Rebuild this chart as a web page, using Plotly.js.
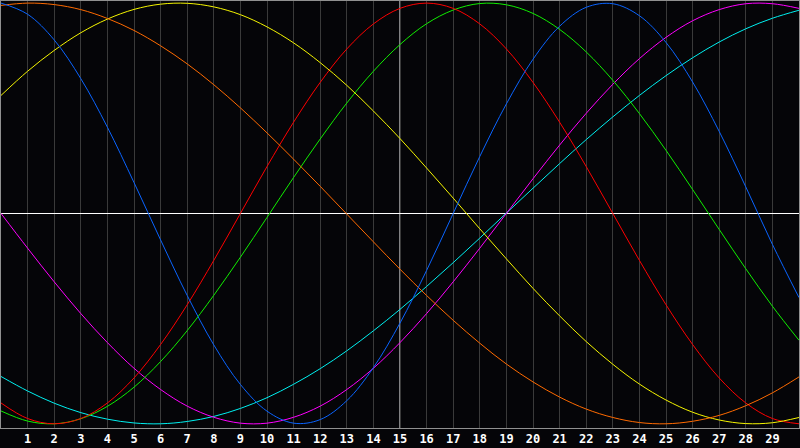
<!DOCTYPE html>
<html>
<head>
<meta charset="utf-8">
<script src="https://cdn.plot.ly/plotly-3.0.1.min.js"></script>
<style>
html,body{margin:0;padding:0;background:#050508;}
#chart{width:800px;height:448px;}
</style>
</head>
<body>
<div id="chart"></div>
<script>
const xValues = [0,1,2,3,4,5,6,7,8,9,10,11,12,13,14,15,16,17,18,19,20,21,22,23,24,25,26,27,28,29,30];
const tickLabels = [1,2,3,4,5,6,7,8,9,10,11,12,13,14,15,16,17,18,19,20,21,22,23,24,25,26,27,28,29];
const refX = 15;

const blueValues = [1.00,0.947,0.825,0.641,0.410,0.147,-0.126,-0.390,-0.625,-0.813,-0.940,-0.997,-0.980,-0.890,-0.733,-0.521,-0.271,0.000,0.271,0.521,0.733,0.890,0.980,0.997,0.940,0.813,0.625,0.390,0.126,-0.147,-0.400];
const orangeValues = [0.989,1.000,0.993,0.969,0.927,0.870,0.797,0.711,0.612,0.502,0.383,0.258,0.129,-0.003,-0.135,-0.265,-0.390,-0.508,-0.617,-0.716,-0.801,-0.873,-0.930,-0.970,-0.994,-1.000,-0.988,-0.960,-0.914,-0.853,-0.777];
const yellowValues = [0.561,0.676,0.775,0.859,0.924,0.970,0.995,0.999,0.982,0.945,0.887,0.811,0.717,0.609,0.487,0.356,0.216,0.073,-0.073,-0.216,-0.356,-0.487,-0.609,-0.717,-0.811,-0.887,-0.945,-0.982,-0.999,-0.995,-0.970];
const redValues = [-0.901,-0.975,-1.000,-0.975,-0.901,-0.782,-0.623,-0.434,-0.223,0.000,0.223,0.434,0.623,0.782,0.901,0.975,1.000,0.975,0.901,0.782,0.623,0.434,0.223,0.000,-0.223,-0.434,-0.623,-0.782,-0.901,-0.975,-1.000];
const greenValues = [-0.939,-0.987,-1.000,-0.976,-0.917,-0.826,-0.704,-0.557,-0.389,-0.208,-0.019,0.171,0.354,0.525,0.676,0.803,0.902,0.967,0.998,0.992,0.951,0.875,0.768,0.633,0.475,0.300,0.114,-0.076,-0.263,-0.441,-0.603];
const magentaValues = [0.000,-0.165,-0.325,-0.476,-0.614,-0.736,-0.837,-0.916,-0.969,-0.997,-0.997,-0.969,-0.916,-0.837,-0.736,-0.614,-0.476,-0.325,-0.165,0.000,0.165,0.325,0.476,0.614,0.736,0.837,0.916,0.969,0.997,0.997,0.975];
const cyanValues = [-0.775,-0.844,-0.902,-0.947,-0.978,-0.996,-1.000,-0.989,-0.965,-0.927,-0.876,-0.812,-0.738,-0.653,-0.558,-0.456,-0.347,-0.234,-0.117,0.002,0.120,0.237,0.351,0.459,0.561,0.655,0.740,0.815,0.878,0.928,0.966];

const seriesList = [
  {y: cyanValues, color: '#00f0f0'},
  {y: magentaValues, color: '#ff00ff'},
  {y: greenValues, color: '#10ee00'},
  {y: redValues, color: '#ff0000'},
  {y: yellowValues, color: '#f5f500'},
  {y: orangeValues, color: '#ff6a00'},
  {y: blueValues, color: '#0a64ff'}
];

const traces = seriesList.map(s => ({
  x: xValues, y: s.y, type: 'scatter', mode: 'lines',
  line: {color: s.color, width: 1, shape: 'spline', smoothing: 1},
  hoverinfo: 'skip', showlegend: false
}));

const layout = {
  width: 800, height: 448,
  margin: {l: 1, r: 1, t: 1, b: 20, pad: 0},
  paper_bgcolor: '#050508',
  plot_bgcolor: '#050508',
  showlegend: false,
  xaxis: {
    range: [0, 30], tickmode: 'array', tickvals: tickLabels, ticktext: tickLabels.map(String),
    showgrid: true, gridcolor: '#3a3a3a', gridwidth: 1,
    zeroline: false, showline: true, mirror: true, linecolor: '#909090', linewidth: 1,
    ticks: '', ticklabelstandoff: 0,
    tickfont: {family: 'DejaVu Sans Mono', size: 12, color: '#ffffff', weight: 'bold'}
  },
  yaxis: {
    range: [-1.02, 1.01], showgrid: false, showticklabels: false, ticks: '',
    zeroline: true, zerolinecolor: '#ffffff', zerolinewidth: 1,
    showline: true, mirror: true, linecolor: '#909090', linewidth: 1
  },
  shapes: [{type: 'line', xref: 'x', yref: 'paper', x0: refX, x1: refX, y0: 0, y1: 1,
            line: {color: '#ffffff', width: 1}, layer: 'below'}]
};

Plotly.newPlot('chart', traces, layout, {staticPlot: true, displayModeBar: false});
</script>
</body>
</html>
